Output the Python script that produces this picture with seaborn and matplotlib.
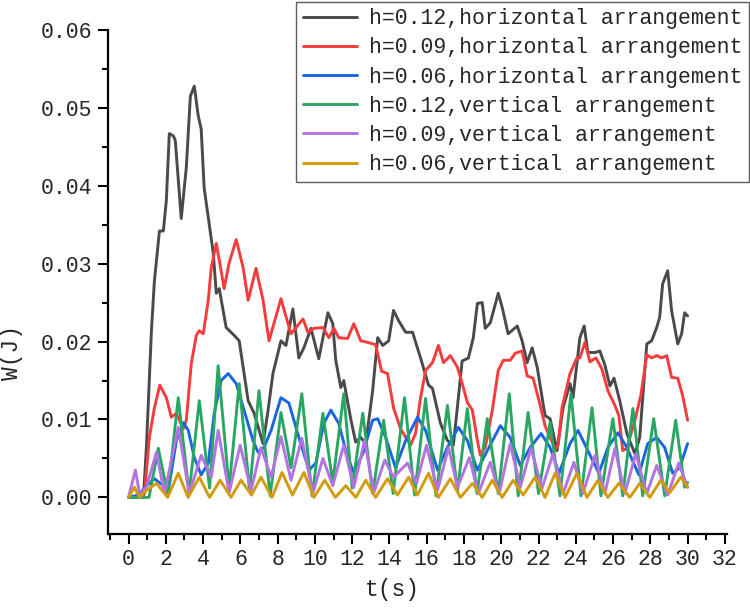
import numpy as np
import pandas as pd
import matplotlib
matplotlib.use("Agg")
import matplotlib.pyplot as plt
from matplotlib.ticker import MultipleLocator, FormatStrFormatter
import seaborn as sns

# --- data: (t [s], W [J]) --- #
labels = [
    "h=0.12,horizontal arrangement",
    "h=0.09,horizontal arrangement",
    "h=0.06,horizontal arrangement",
    "h=0.12,vertical arrangement",
    "h=0.09,vertical arrangement",
    "h=0.06,vertical arrangement",
]
colors = ["#4a4a4a", "#f53c3c", "#1a66e0", "#2aa663", "#b274e0", "#d29c0c"]

black_pts = [
    (0.0, 0.0), (0.8, 0.0), (0.96, 0.0064), (1.23, 0.0214), (1.39, 0.0278), (1.66, 0.0342),
    (1.87, 0.0342), (2.03, 0.0381), (2.19, 0.0467), (2.41, 0.0464), (2.51, 0.0458), (2.83, 0.0358),
    (3.10, 0.0423), (3.32, 0.0515), (3.53, 0.0528), (3.74, 0.0490), (3.90, 0.0473), (4.06, 0.0397),
    (4.33, 0.0351), (4.55, 0.0313), (4.71, 0.0262), (4.87, 0.0268), (5.24, 0.0218), (5.67, 0.0208),
    (5.94, 0.0201), (6.42, 0.0124), (6.74, 0.0108), (7.22, 0.0069), (7.49, 0.0112), (7.75, 0.0159),
    (8.18, 0.0201), (8.45, 0.0195), (8.82, 0.0242), (9.14, 0.0179), (9.41, 0.0192), (9.79, 0.0217),
    (10.21, 0.0178), (10.70, 0.0237), (10.96, 0.0223), (11.12, 0.0176), (11.39, 0.0141), (11.55, 0.0150),
    (11.93, 0.0100), (12.19, 0.0071), (12.46, 0.0077), (12.73, 0.0069), (13.10, 0.0137), (13.37, 0.0205),
    (13.64, 0.0195), (13.96, 0.0201), (14.22, 0.0240), (14.49, 0.0227), (14.87, 0.0212), (15.24, 0.0212),
    (15.67, 0.0179), (16.10, 0.0144), (16.31, 0.0140), (16.74, 0.0095), (17.11, 0.0073), (17.43, 0.0067),
    (17.70, 0.0128), (17.90, 0.0175), (18.24, 0.0179), (18.50, 0.0205), (18.72, 0.0249), (18.98, 0.0250),
    (19.14, 0.0217), (19.41, 0.0224), (19.84, 0.0262), (20.05, 0.0244), (20.37, 0.0210), (20.86, 0.0220),
    (21.12, 0.0201), (21.39, 0.0173), (21.66, 0.0192), (21.93, 0.0167), (22.35, 0.0105), (22.62, 0.0101),
    (22.99, 0.0060), (23.32, 0.0115), (23.69, 0.0146), (23.85, 0.0128), (24.22, 0.0205), (24.45, 0.0220),
    (24.65, 0.0186), (25.03, 0.0186), (25.29, 0.0188), (25.56, 0.0170), (25.83, 0.0143), (26.05, 0.0153),
    (26.36, 0.0124), (26.74, 0.0082), (27.17, 0.0056), (27.43, 0.0077), (27.81, 0.0197), (28.07, 0.0201),
    (28.34, 0.0218), (28.50, 0.0231), (28.66, 0.0274), (28.93, 0.0291), (29.14, 0.0240), (29.47, 0.0197),
    (29.68, 0.0210), (29.84, 0.0237), (30.00, 0.0233),
]

red_pts = [
    (0.0, 0.0), (0.6, 0.0), (0.86, 0.0005), (1.12, 0.0077), (1.39, 0.0115), (1.68, 0.0144),
    (2.03, 0.0128), (2.30, 0.0103), (2.57, 0.0108), (2.94, 0.0088), (3.10, 0.0099), (3.37, 0.0172),
    (3.64, 0.0208), (3.80, 0.0214), (4.01, 0.0210), (4.28, 0.0253), (4.44, 0.0295), (4.71, 0.0326),
    (4.97, 0.0291), (5.13, 0.0268), (5.40, 0.0301), (5.78, 0.0331), (6.15, 0.0295), (6.42, 0.0253),
    (6.84, 0.0294), (7.22, 0.0253), (7.54, 0.0201), (8.18, 0.0255), (8.56, 0.0223), (8.72, 0.0210),
    (9.36, 0.0229), (9.63, 0.0212), (9.95, 0.0217), (10.43, 0.0218), (10.75, 0.0205), (11.02, 0.0217),
    (11.28, 0.0205), (11.76, 0.0204), (12.09, 0.0223), (12.46, 0.0201), (12.83, 0.0199), (13.26, 0.0196),
    (13.58, 0.0162), (13.90, 0.0159), (14.22, 0.0115), (14.60, 0.0088), (15.13, 0.0067), (15.40, 0.0082),
    (15.67, 0.0128), (15.94, 0.0163), (16.31, 0.0173), (16.63, 0.0195), (16.90, 0.0173), (17.27, 0.0182),
    (17.65, 0.0167), (17.91, 0.0146), (18.18, 0.0122), (18.45, 0.0112), (18.72, 0.0073), (18.88, 0.0054),
    (19.14, 0.0064), (19.52, 0.0112), (19.84, 0.0163), (20.11, 0.0176), (20.48, 0.0176), (20.75, 0.0185),
    (21.12, 0.0188), (21.39, 0.0156), (21.71, 0.0153), (22.03, 0.0124), (22.35, 0.0092), (22.62, 0.0077),
    (22.89, 0.0062), (23.05, 0.0067), (23.26, 0.0115), (23.69, 0.0159), (24.06, 0.0179), (24.22, 0.0179),
    (24.49, 0.0199), (24.76, 0.0174), (25.08, 0.0179), (25.40, 0.0165), (25.72, 0.0137), (26.10, 0.0118),
    (26.31, 0.0105), (26.52, 0.0060), (26.74, 0.0063), (27.17, 0.0099), (27.49, 0.0131), (27.81, 0.0183),
    (28.07, 0.0179), (28.34, 0.0182), (28.61, 0.0179), (28.88, 0.0182), (29.14, 0.0154), (29.47, 0.0153),
    (29.73, 0.0131), (30.00, 0.0099),
]

blue_pts = [
    (0.0, 0.0), (0.53, 0.0003), (0.96, 0.0015), (1.39, 0.0024), (1.87, 0.0015), (2.14, 0.0009),
    (2.57, 0.0073), (2.94, 0.0096), (3.21, 0.0086), (3.53, 0.0051), (3.90, 0.0029), (4.28, 0.0044),
    (4.60, 0.0108), (4.97, 0.0150), (5.35, 0.0159), (5.78, 0.0146), (6.20, 0.0112), (6.68, 0.0073),
    (6.95, 0.0058), (7.27, 0.0064), (7.65, 0.0086), (8.18, 0.0128), (8.61, 0.0121), (9.14, 0.0077),
    (9.68, 0.0035), (10.05, 0.0044), (10.48, 0.0095), (10.86, 0.0112), (11.28, 0.0095), (11.76, 0.0051),
    (12.09, 0.0032), (12.57, 0.0056), (13.10, 0.0099), (13.37, 0.0101), (13.80, 0.0077), (14.33, 0.0038),
    (14.87, 0.0073), (15.51, 0.0103), (15.94, 0.0086), (16.58, 0.0035), (17.11, 0.0064), (17.70, 0.0090),
    (18.18, 0.0073), (18.72, 0.0035), (19.25, 0.0060), (19.95, 0.0092), (20.48, 0.0077), (21.02, 0.0041),
    (21.55, 0.0064), (22.14, 0.0082), (22.62, 0.0064), (23.10, 0.0031), (23.69, 0.0069), (24.12, 0.0086),
    (24.65, 0.0060), (25.24, 0.0031), (25.72, 0.0064), (26.26, 0.0083), (26.74, 0.0064), (27.38, 0.0029),
    (27.86, 0.0069), (28.34, 0.0077), (28.77, 0.0064), (29.20, 0.0031), (29.57, 0.0038), (30.00, 0.0069),
]

green_pts = [
    (0.0, 0.0), (1.1, 0.0), (1.60, 0.0063), (2.10, 0.0004), (2.67, 0.0128), (3.25, 0.0005),
    (3.80, 0.0124), (4.35, 0.0012), (4.81, 0.0169), (5.40, 0.0012), (5.94, 0.0146), (6.50, 0.0008),
    (7.00, 0.0137), (7.60, 0.0002), (8.18, 0.0109), (8.72, 0.0038), (9.30, 0.0133), (9.85, 0.0002),
    (10.43, 0.0108), (10.96, 0.0019), (11.55, 0.0133), (12.00, 0.0012), (12.57, 0.0108), (13.10, 0.0005),
    (13.69, 0.0099), (14.20, 0.0005), (14.81, 0.0128), (15.35, 0.0003), (15.94, 0.0127), (16.50, 0.0002),
    (17.11, 0.0118), (17.65, 0.0008), (18.18, 0.0114), (18.70, 0.0005), (19.25, 0.0101), (19.84, 0.0005),
    (20.43, 0.0133), (20.91, 0.0002), (21.44, 0.0109), (22.00, 0.0005), (22.62, 0.0096), (23.15, 0.0002),
    (23.74, 0.0133), (24.28, 0.0002), (24.87, 0.0115), (25.35, 0.0002), (25.99, 0.0101), (26.52, 0.0002),
    (27.06, 0.0114), (27.59, 0.0002), (28.18, 0.0101), (28.77, 0.0002), (29.36, 0.0099), (29.84, 0.0013),
    (30.00, 0.0019),
]

purple_pts = [
    (0.0, 0.0), (0.37, 0.0035), (0.59, 0.0005), (0.96, 0.0013), (1.50, 0.0058), (1.93, 0.0005),
    (2.67, 0.0090), (3.26, 0.0005), (3.90, 0.0054), (4.44, 0.0026), (4.81, 0.0086), (5.40, 0.0006),
    (5.99, 0.0067), (6.58, 0.0009), (7.11, 0.0064), (7.65, 0.0026), (8.18, 0.0078), (8.72, 0.0022),
    (9.30, 0.0076), (9.89, 0.0005), (10.43, 0.0050), (10.96, 0.0015), (11.55, 0.0067), (12.09, 0.0013),
    (12.67, 0.0073), (13.16, 0.0006), (13.75, 0.0048), (14.22, 0.0026), (14.97, 0.0044), (15.45, 0.0018),
    (15.99, 0.0067), (16.58, 0.0009), (17.17, 0.0064), (17.65, 0.0013), (18.29, 0.0051), (18.77, 0.0005),
    (19.41, 0.0045), (19.89, 0.0005), (20.48, 0.0069), (21.02, 0.0013), (21.60, 0.0063), (22.19, 0.0012),
    (22.78, 0.0056), (23.32, 0.0005), (23.90, 0.0045), (24.38, 0.0005), (25.03, 0.0054), (25.56, 0.0005),
    (26.10, 0.0063), (26.63, 0.0005), (27.22, 0.0056), (27.81, 0.0005), (28.34, 0.0041), (28.93, 0.0003),
    (29.52, 0.0044), (30.00, 0.0013),
]

yellow_pts = [
    (0.0, 0.0), (0.32, 0.0013), (0.59, 0.0), (0.96, 0.0009), (1.50, 0.0018), (2.10, 0.0),
    (2.67, 0.0031), (3.20, 0.0), (3.80, 0.0026), (4.35, 0.0), (4.92, 0.0022), (5.50, 0.0),
    (6.04, 0.0022), (6.60, 0.0003), (7.11, 0.0026), (7.70, 0.0), (8.24, 0.0032), (8.80, 0.0003),
    (9.41, 0.0032), (9.95, 0.0), (10.53, 0.0022), (11.10, 0.0), (11.66, 0.0015), (12.20, 0.0),
    (12.73, 0.0022), (13.26, 0.0), (13.90, 0.0024), (14.43, 0.0003), (15.03, 0.0026), (15.50, 0.0003),
    (16.10, 0.0031), (16.63, 0.0), (17.27, 0.0024), (17.81, 0.0), (18.45, 0.0018), (18.98, 0.0),
    (19.52, 0.0022), (20.05, 0.0), (20.64, 0.0022), (21.18, 0.0003), (21.82, 0.0026), (22.35, 0.0),
    (22.89, 0.0031), (23.43, 0.0), (24.06, 0.0031), (24.60, 0.0), (25.19, 0.0022), (25.72, 0.0),
    (26.31, 0.0018), (26.90, 0.0), (27.43, 0.0018), (27.97, 0.0), (28.56, 0.0022), (29.04, 0.0006),
    (29.63, 0.0026), (30.00, 0.0013),
]

series = [black_pts, red_pts, blue_pts, green_pts, purple_pts, yellow_pts]

# --- long table for seaborn --- #
frames = []
for lab, pts in zip(labels, series):
    frames.append(pd.DataFrame(pts, columns=["t", "W"]).assign(series=lab))
df = pd.concat(frames, ignore_index=True)

# --- style --- #
sns.set_theme(style="ticks")
plt.rcParams["font.family"] = ["Liberation Mono", "DejaVu Sans"]
fs = 15.5

fig = plt.figure(figsize=(7.5, 6.08), dpi=100)
ax = fig.add_axes([0.144, 0.1217, 0.825, 0.829])

sns.lineplot(data=df, x="t", y="W", hue="series", hue_order=labels,
             palette=dict(zip(labels, colors)), estimator=None, linewidth=2.1, ax=ax)
for ln in ax.get_lines():
    ln.set_solid_joinstyle("round")

ax.set_xlim(-1.1, 32.1)
ax.set_ylim(-0.0047, 0.06)
ax.set_xticks(np.arange(0, 33, 2))
ax.xaxis.set_minor_locator(MultipleLocator(1))
ax.set_yticks(np.arange(0, 0.061, 0.01))
ax.yaxis.set_minor_locator(MultipleLocator(0.005))
ax.yaxis.set_major_formatter(FormatStrFormatter("%.2f"))

ax.tick_params(which="major", direction="out", length=7, width=1.5, labelsize=fs, pad=4, color="black")
ax.tick_params(which="minor", direction="out", length=4, width=1.5, color="black")
sns.despine(ax=ax)
for sp in ["left", "bottom"]:
    ax.spines[sp].set_linewidth(1.6)
    ax.spines[sp].set_color("black")

ax.set_xlabel("t(s)", fontsize=fs + 1)
ax.set_ylabel("W(J)", fontsize=fs + 1)
ax.xaxis.set_label_coords(0.46, -0.088)
ax.yaxis.set_label_coords(-0.138, 0.36)

sns.move_legend(ax, "upper right", bbox_to_anchor=(0.999, 0.997), bbox_transform=fig.transFigure,
                title=None, frameon=True, fancybox=False, fontsize=fs, handlelength=2.5,
                handletextpad=0.6, labelspacing=0.38, borderpad=0.3, borderaxespad=0)
leg = ax.get_legend()
leg.get_frame().set_edgecolor("#333333")
leg.get_frame().set_linewidth(1.0)
for ln in leg.get_lines():
    ln.set_linewidth(2.1)

fig.savefig("out.png", dpi=100)
